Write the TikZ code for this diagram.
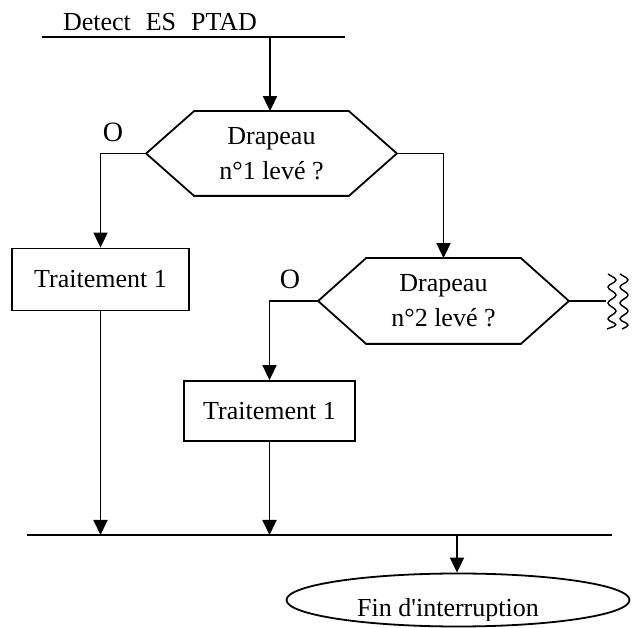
\documentclass[tikz,border=0pt]{standalone}
\usepackage{fontspec}
\setmainfont{Liberation Serif}
\usetikzlibrary{arrows.meta,shapes.geometric}
\begin{document}
\begin{tikzpicture}[x=1pt,y=-1pt,line width=1.8pt,
  arr/.style={-{Triangle[width=14pt,length=15pt]}},
  lbl/.style={font=\fontsize{26}{35}\selectfont,inner sep=0pt,align=center},
  olbl/.style={font=\fontsize{28}{31}\selectfont,inner sep=0pt},
  hexnode/.style={lbl,minimum width=249pt,minimum height=83pt},
  box/.style={draw,inner sep=0pt,font=\fontsize{26}{31}\selectfont},
  wave/.style={line width=1.4pt,rounded corners=4pt}]
\useasboundingbox (0,0) rectangle (633,628);
% title and top line
\node[lbl] (title) at (160,22) {Detect\hspace{15pt}ES\hspace{15pt}PTAD};
\coordinate (tl) at (42,37);
\coordinate (tr) at (345,37);
\coordinate (ttop) at (270,37);
\draw (tl) -- (tr);
% hexagon 1
\node[hexnode] (h1) at (271.5,153.5) {Drapeau\\n°1 levé ?};
\draw (h1.west) -- ([xshift=48pt]h1.north west) -- ([xshift=-48pt]h1.north east) -- (h1.east)
  -- ([xshift=-48pt]h1.south east) -- ([xshift=48pt]h1.south west) -- cycle;
\draw[arr] (ttop) -- (ttop |- h1.north);
\node[olbl] (o1) at (113,132) {O};
% box 1
\node[box,minimum width=177pt,minimum height=62pt] (b1) at (100.5,279.5) {Traitement 1};
\draw[arr] (h1.west) -| (b1.north);
% hexagon 2
\node[hexnode,minimum height=84pt] (h2) at (443.5,301) {Drapeau\\n°2 levé ?};
\draw (h2.west) -- ([xshift=48pt]h2.north west) -- ([xshift=-48pt]h2.north east) -- (h2.east)
  -- ([xshift=-48pt]h2.south east) -- ([xshift=48pt]h2.south west) -- cycle;
\draw[arr] (h1.east) -| (h2.north);
\node[olbl] (o2) at (290,279) {O};
% box 2
\node[box,minimum width=171pt,minimum height=60pt] (b2) at (269.5,411) {Traitement 1};
\draw[arr] (h2.west) -| (b2.north);
% exit to the right
\coordinate (zz) at (606,301);
\draw (h2.east) -- (zz);
\draw[wave] (608,274) -- (618,280) -- (606,287) -- (618,295) -- (606,303) -- (618,311) -- (606,319) -- (618,325) -- (607,329);
\draw[wave] (620,274) -- (630,280) -- (618,287) -- (630,295) -- (618,303) -- (630,311) -- (618,319) -- (630,325) -- (622,329);
% bottom line
\coordinate (bl) at (27,535);
\coordinate (br) at (612,535);
\coordinate (bm) at (457,535);
\draw (bl) -- (br);
\draw[arr] (b1.south) -- (b1.south |- bl);
\draw[arr] (b2.south) -- (b2.south |- bl);
% end ellipse
\node[draw,ellipse,minimum width=343pt,minimum height=53pt,inner sep=0pt] (e) at (458,600) {};
\draw[arr] (bm) -- (bm |- e.north);
\begin{scope}
\clip (0,0) rectangle (633,621);
\node[lbl,anchor=base] (etxt) at (448,617) {Fin d\textquotesingle interruption};
\end{scope}
\end{tikzpicture}
\end{document}
